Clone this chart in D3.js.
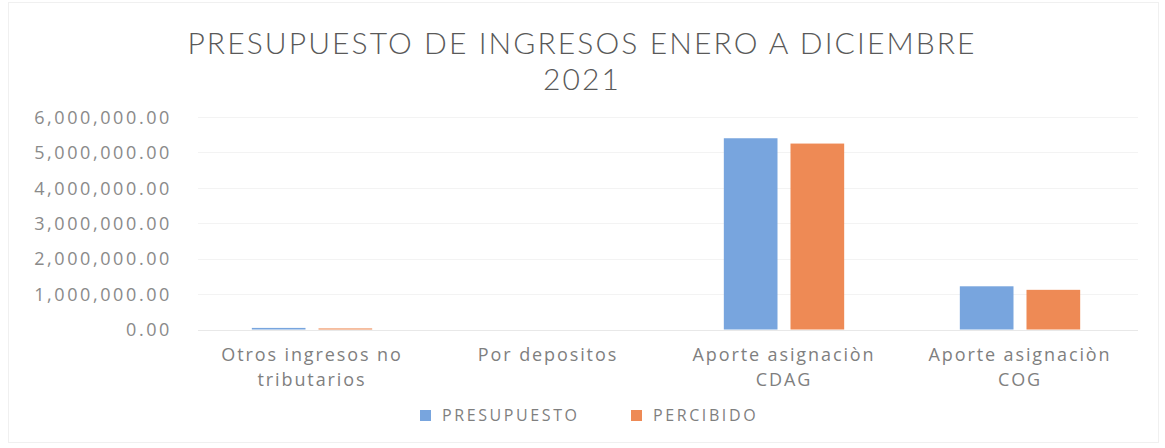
<!DOCTYPE html>
<html><head><meta charset="utf-8">
<script src="https://cdn.jsdelivr.net/npm/d3@7"></script>
<style>body{margin:0;background:#fff}svg{display:block}</style>
</head><body><svg id="c" width="1165" height="448"></svg>
<script>
const categories = [["Otros ingresos no","tributarios"],["Por depositos"],["Aporte asignaciòn","CDAG"],["Aporte asignaciòn","COG"]];
const seriesNames = ["PRESUPUESTO","PERCIBIDO"];
const presupuesto = [45000, 0, 5400000, 1220000];
const percibido = [30000, 0, 5250000, 1120000];
const yTicks = [0,1000000,2000000,3000000,4000000,5000000,6000000];
const titleLines = ["PRESUPUESTO DE INGRESOS ENERO A DICIEMBRE","2021"];
const colors = ["#78a5de","#ee8a55"];

const svg = d3.select("#c");
const font = "'Open Sans', sans-serif";
svg.append("rect").attr("x",8.5).attr("y",2.5).attr("width",1150).attr("height",440)
  .attr("fill","none").attr("stroke","#f0f0f0");

const catKeys = categories.map(d=>d.join(" "));
const x0 = d3.scaleBand().domain(catKeys).range([194,1138]).paddingInner(0.49).paddingOuter(0.245);
const x1 = d3.scaleBand().domain(seriesNames).range([0,x0.bandwidth()]).paddingInner(0.195);
const y = d3.scaleLinear().domain([0,6000000]).range([329.5,117]);

// gridlines
svg.append("g").selectAll("line").data(yTicks).join("line")
  .attr("x1",198).attr("x2",1138).attr("y1",d=>Math.round(y(d))+0.5).attr("y2",d=>Math.round(y(d))+0.5)
  .attr("stroke",d=>d===0?"#e8e8e8":"#f3f3f3").attr("stroke-width",1);

// y axis
const yAxis = d3.axisLeft(y).tickValues(yTicks).tickSize(0).tickPadding(0)
  .tickFormat(d=>d3.format(",.2f")(d));
const ga = svg.append("g").attr("transform","translate(172,0)").call(yAxis);
ga.select(".domain").remove();
ga.selectAll("text").attr("font-family",font).attr("font-size",18).attr("fill","#8a8a8a")
  .attr("letter-spacing","2.6px").attr("dy","0.35em");

// bars
const data = catKeys.map((k,i)=>({k, vals:[presupuesto[i],percibido[i]]}));
const g = svg.append("g").selectAll("g").data(data).join("g")
  .attr("transform",d=>`translate(${x0(d.k)},0)`);
g.selectAll("rect").data(d=>d.vals.map((v,j)=>({s:seriesNames[j],v,j}))).join("rect")
  .attr("x",d=>x1(d.s)).attr("width",x1.bandwidth())
  .attr("y",d=>y(d.v)).attr("height",d=>y(0)-y(d.v))
  .attr("fill",d=>colors[d.j]);

// x labels
const xl = svg.append("g").selectAll("text").data(categories).join("text")
  .attr("x",(d,i)=>x0(catKeys[i])+x0.bandwidth()/2).attr("y",361)
  .attr("text-anchor","middle").attr("font-family",font).attr("font-size",18)
  .attr("fill","#7f7f7f").attr("letter-spacing","1.9px");
xl.selectAll("tspan").data(d=>d).join("tspan")
  .attr("x",function(){return this.parentNode.getAttribute("x");})
  .attr("dy",(d,i)=>i===0?0:25).text(d=>d);

// title
svg.append("g").selectAll("text").data(titleLines).join("text")
  .attr("x",582).attr("y",(d,i)=>54+i*36).attr("text-anchor","middle")
  .attr("font-family","Lato, sans-serif").attr("font-weight",300).attr("font-size",30)
  .attr("fill","#595959").attr("letter-spacing","2.1px").text(d=>d);

// legend
const legX = [420,631];
const lg = svg.append("g").selectAll("g").data(seriesNames).join("g")
  .attr("transform",(d,i)=>`translate(${legX[i]},415)`);
lg.append("rect").attr("x",0).attr("y",-5).attr("width",11).attr("height",11).attr("fill",(d,i)=>colors[i]);
lg.append("text").attr("x",22).attr("dy","0.35em").attr("font-family",font).attr("font-size",16)
  .attr("fill","#7f7f7f").attr("letter-spacing","2.6px").text(d=>d);
</script></body></html>
